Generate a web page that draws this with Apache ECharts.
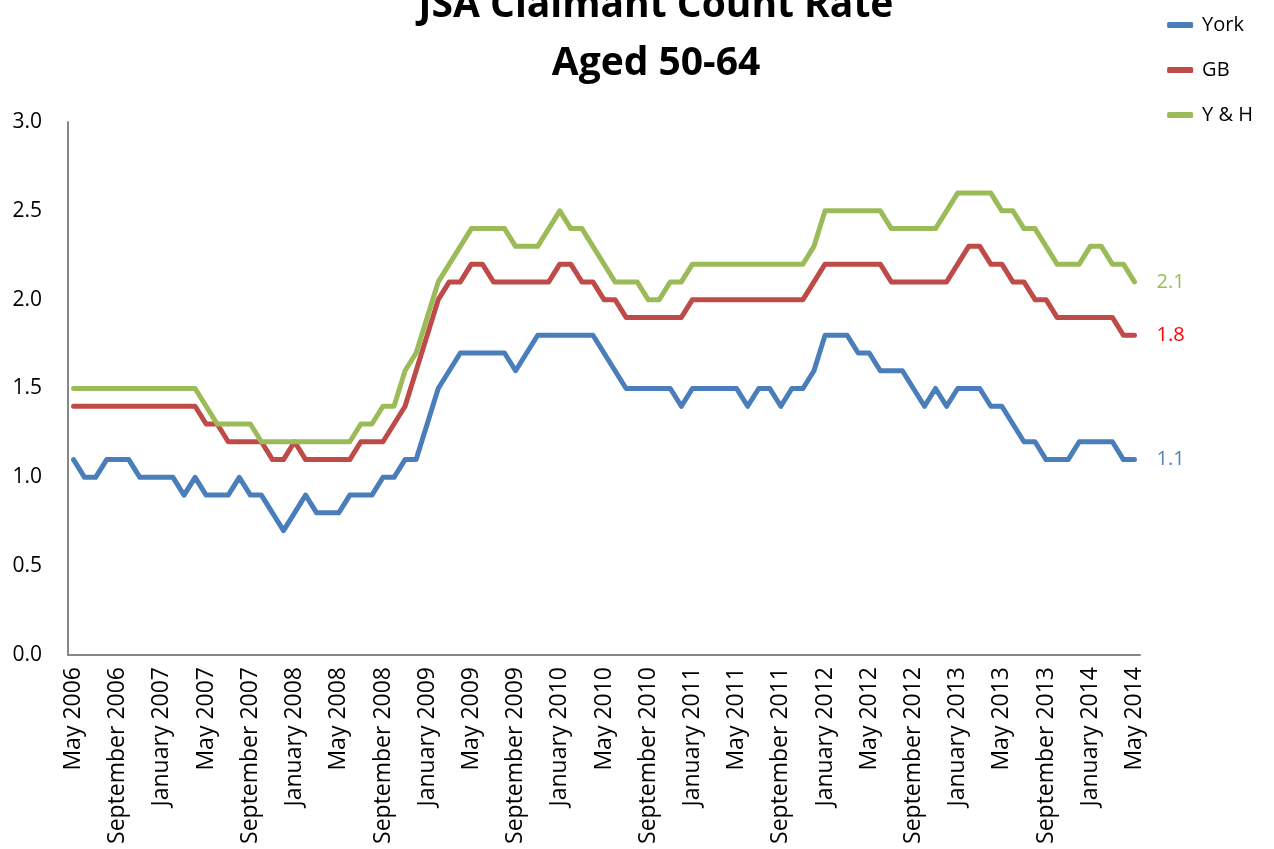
<!DOCTYPE html>
<html>
<head>
<meta charset="utf-8">
<script src="https://cdn.jsdelivr.net/npm/echarts@6/dist/echarts.min.js"></script>
<style>
  html, body { margin: 0; padding: 0; background: #fff; }
  #chart { width: 1274px; height: 849px; }
</style>
</head>
<body>
<div id="chart"></div>
<script>
// month labels, May 2006 .. May 2014
var monthNames = ['January', 'February', 'March', 'April', 'May', 'June', 'July',
  'August', 'September', 'October', 'November', 'December'];
var categories = [];
for (var m = 4; m <= 12 * 8 + 4; m++) {
  categories.push(monthNames[m % 12] + ' ' + (2006 + Math.floor(m / 12)));
}

var york = [
  1.1, 1.0, 1.0, 1.1, 1.1, 1.1, 1.0, 1.0, 1.0, 1.0,
  0.9, 1.0, 0.9, 0.9, 0.9, 1.0, 0.9, 0.9, 0.8, 0.7,
  0.8, 0.9, 0.8, 0.8, 0.8, 0.9, 0.9, 0.9, 1.0, 1.0,
  1.1, 1.1, 1.3, 1.5, 1.6, 1.7, 1.7, 1.7, 1.7, 1.7,
  1.6, 1.7, 1.8, 1.8, 1.8, 1.8, 1.8, 1.8, 1.7, 1.6,
  1.5, 1.5, 1.5, 1.5, 1.5, 1.4, 1.5, 1.5, 1.5, 1.5,
  1.5, 1.4, 1.5, 1.5, 1.4, 1.5, 1.5, 1.6, 1.8, 1.8,
  1.8, 1.7, 1.7, 1.6, 1.6, 1.6, 1.5, 1.4, 1.5, 1.4,
  1.5, 1.5, 1.5, 1.4, 1.4, 1.3, 1.2, 1.2, 1.1, 1.1,
  1.1, 1.2, 1.2, 1.2, 1.2, 1.1, 1.1
];
var gb = [
  1.4, 1.4, 1.4, 1.4, 1.4, 1.4, 1.4, 1.4, 1.4, 1.4,
  1.4, 1.4, 1.3, 1.3, 1.2, 1.2, 1.2, 1.2, 1.1, 1.1,
  1.2, 1.1, 1.1, 1.1, 1.1, 1.1, 1.2, 1.2, 1.2, 1.3,
  1.4, 1.6, 1.8, 2.0, 2.1, 2.1, 2.2, 2.2, 2.1, 2.1,
  2.1, 2.1, 2.1, 2.1, 2.2, 2.2, 2.1, 2.1, 2.0, 2.0,
  1.9, 1.9, 1.9, 1.9, 1.9, 1.9, 2.0, 2.0, 2.0, 2.0,
  2.0, 2.0, 2.0, 2.0, 2.0, 2.0, 2.0, 2.1, 2.2, 2.2,
  2.2, 2.2, 2.2, 2.2, 2.1, 2.1, 2.1, 2.1, 2.1, 2.1,
  2.2, 2.3, 2.3, 2.2, 2.2, 2.1, 2.1, 2.0, 2.0, 1.9,
  1.9, 1.9, 1.9, 1.9, 1.9, 1.8, 1.8
];
var yh = [
  1.5, 1.5, 1.5, 1.5, 1.5, 1.5, 1.5, 1.5, 1.5, 1.5,
  1.5, 1.5, 1.4, 1.3, 1.3, 1.3, 1.3, 1.2, 1.2, 1.2,
  1.2, 1.2, 1.2, 1.2, 1.2, 1.2, 1.3, 1.3, 1.4, 1.4,
  1.6, 1.7, 1.9, 2.1, 2.2, 2.3, 2.4, 2.4, 2.4, 2.4,
  2.3, 2.3, 2.3, 2.4, 2.5, 2.4, 2.4, 2.3, 2.2, 2.1,
  2.1, 2.1, 2.0, 2.0, 2.1, 2.1, 2.2, 2.2, 2.2, 2.2,
  2.2, 2.2, 2.2, 2.2, 2.2, 2.2, 2.2, 2.3, 2.5, 2.5,
  2.5, 2.5, 2.5, 2.5, 2.4, 2.4, 2.4, 2.4, 2.4, 2.5,
  2.6, 2.6, 2.6, 2.6, 2.5, 2.5, 2.4, 2.4, 2.3, 2.2,
  2.2, 2.2, 2.3, 2.3, 2.2, 2.2, 2.1
];

var chart = echarts.init(document.getElementById('chart'));

function lineSeries(name, data, color, labelColor) {
  return {
    name: name,
    type: 'line',
    data: data,
    symbol: 'none',
    color: color,
    lineStyle: { width: 5, color: color, cap: 'round', join: 'round' },
    endLabel: {
      show: true,
      distance: 22,
      color: labelColor,
      fontSize: 20,
      fontFamily: 'Open Sans',
      formatter: function (p) { return p.value.toFixed(1); }
    }
  };
}

var option = {
  backgroundColor: '#ffffff',
  animation: false,
  title: {
    text: 'JSA Claimant Count Rate\nAged 50-64',
    left: 651,
    textAlign: 'center',
    top: -28,
    textStyle: {
      fontFamily: 'Open Sans',
      fontWeight: 'bold',
      fontSize: 39,
      lineHeight: 58,
      color: '#000'
    }
  },
  legend: {
    orient: 'vertical',
    right: 16,
    top: 10,
    itemGap: 25,
    itemWidth: 26,
    itemHeight: 6,
    icon: 'roundRect',
    textStyle: { fontFamily: 'Open Sans', fontSize: 20, color: '#000', padding: [0, 0, 0, 4] },
    data: ['York', 'GB', 'Y & H']
  },
  grid: { left: 68, right: 134, top: 122, bottom: 194, containLabel: false },
  xAxis: {
    type: 'category',
    data: categories,
    boundaryGap: true,
    axisLine: { lineStyle: { color: '#868686', width: 2 } },
    axisTick: { show: false },
    axisLabel: {
      interval: 3,
      rotate: 90,
      margin: 12,
      color: '#000',
      fontFamily: 'Open Sans',
      fontSize: 23
    }
  },
  yAxis: {
    type: 'value',
    min: 0,
    max: 3,
    interval: 0.5,
    axisLine: { show: true, lineStyle: { color: '#868686', width: 2 } },
    axisTick: { show: false },
    splitLine: { show: false },
    axisLabel: {
      margin: 26,
      color: '#000',
      fontFamily: 'Open Sans',
      fontSize: 21,
      formatter: function (v) { return v.toFixed(1); }
    }
  },
  series: [
    lineSeries('York', york, '#4A7EBB', '#4F81BD'),
    lineSeries('GB', gb, '#BE4B48', '#FF0000'),
    lineSeries('Y & H', yh, '#9BBB59', '#9BBB59')
  ]
};

chart.setOption(option);
</script>
</body>
</html>
